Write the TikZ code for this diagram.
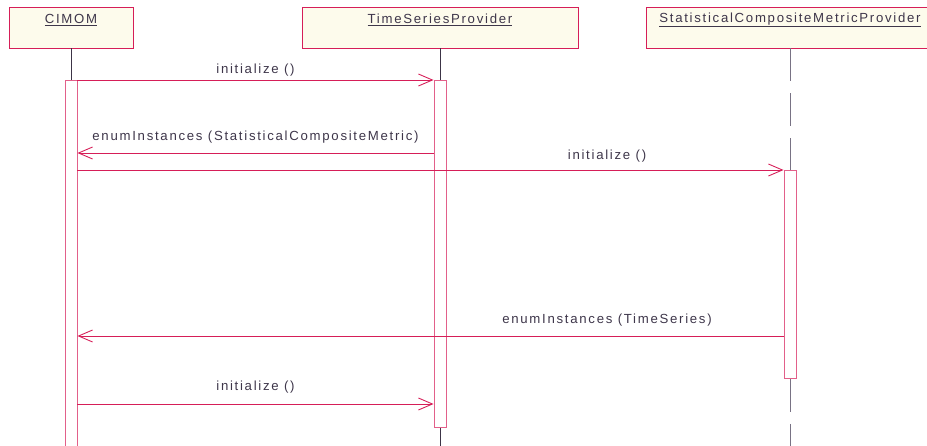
\documentclass[tikz,border=0pt]{standalone}
\usepackage{xcolor}
\usepackage{fontspec}
\usepackage{tikz}
\usetikzlibrary{arrows.meta}
\newfontfamily\umlfont{Liberation Sans}[LetterSpace=13]
\definecolor{umlred}{RGB}{214,30,88}
\definecolor{umlpink}{RGB}{226,96,138}
\definecolor{umlcream}{RGB}{253,251,236}
\definecolor{umltext}{RGB}{62,54,74}
\definecolor{umlgray}{RGB}{120,114,132}
\definecolor{umldark}{RGB}{60,52,70}

\begin{document}
\begin{tikzpicture}[x=1pt, y=-1pt,
  obj/.style={draw=umlred, fill=umlcream, line width=0.9pt, minimum height=41pt, inner sep=0pt},
  act/.style={draw=umlpink, fill=white, line width=0.9pt, minimum width=12pt, inner sep=0pt, anchor=north},
  msg/.style={draw=umlred, line width=0.9pt, -{Straight Barb[length=14pt, width=12pt, line width=0.9pt]}},
  txt/.style={text=umltext, font=\umlfont\fontsize{13.2}{15}\selectfont},
  life/.style={draw=umldark, line width=0.9pt},
  dashlife/.style={draw=umlgray, line width=0.9pt, dash pattern=on 33pt off 12pt}]
\useasboundingbox (0,0) rectangle (927,446);
\clip (0,0) rectangle (927,446);
\coordinate (bottom) at (0,446);
\coordinate (m1) at (0,80);
\coordinate (m2) at (0,153);
\coordinate (m3) at (0,170);
\coordinate (m4) at (0,336);
\coordinate (m5) at (0,404);

\node [obj, minimum width=124pt] (cimom) at (71,27.5) {};
\node [obj, minimum width=276pt] (tsp) at (440,27.5) {};
\node [obj, minimum width=288pt] (scmp) at (790,27.5) {};
\node [txt] (cimomT) at (71,20) {\underline{CIMOM}};
\node [txt] (tspT) at (440,20) {\underline{TimeSeriesProvider}};
\node [txt] (scmpT) at (790,20) {\underline{StatisticalCompositeMetricProvider}};

\node [act, minimum height=380pt] (cimomA) at (71,80) {};
\node [act, minimum height=347pt] (tspA) at (440,80) {};
\node [act, minimum height=208pt] (scmpA) at (790,170) {};

\draw [life] (cimom.south) -- (cimomA.north);
\draw [life] (tsp.south) -- (tspA.north);
\draw [life] (tspA.south) -- (tspA.south |- bottom);
\draw [dashlife] (scmp.south) -- (scmpA.north);
\draw [dashlife] (scmpA.south) -- (scmpA.south |- bottom);

\draw [msg] (cimomA.east |- m1) -- node [txt, above=0pt] {initialize ()} (tspA.west |- m1);
\draw [msg] (tspA.west |- m2) -- node [txt, above=6pt] {enumInstances (StatisticalCompositeMetric)} (cimomA.east |- m2);
\draw [msg] (cimomA.east |- m3) -- node [txt, above=4pt, pos=0.75] {initialize ()} (scmpA.west |- m3);
\draw [msg] (scmpA.west |- m4) -- node [txt, above=6pt, pos=0.25] {enumInstances (TimeSeries)} (cimomA.east |- m4);
\draw [msg] (cimomA.east |- m5) -- node [txt, above=7pt] {initialize ()} (tspA.west |- m5);
\end{tikzpicture}
\end{document}
